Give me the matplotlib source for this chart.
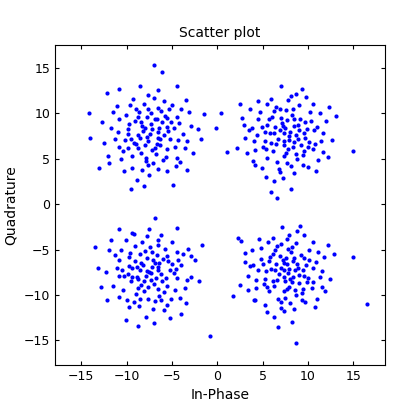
import numpy as np
import matplotlib.pyplot as plt

# cluster centres
centres = [(-7.5, 7.5), (7.5, 7.5), (-7.5, -7.5), (7.5, -7.5)]

# offsets of the points around each centre (estimated by eye)
offsets_a = """
0.1,0.2 -0.8,1.1 1.2,-0.4 -1.5,-0.9 0.6,1.8 2.1,0.5 -2.3,0.7 0.3,-1.6 -0.4,-2.4 1.7,2.2
-1.1,2.6 2.8,-1.2 -2.9,-1.7 0.9,3.1 -3.4,1.9 3.3,1.4 -0.2,-3.2 1.5,-2.7 -1.9,-3.5 2.5,3.4
-3.8,-0.3 4.1,-0.6 0.5,4.2 -0.7,0.5 0.8,-0.9 -1.3,0.1 1.1,0.9 -0.5,-1.0 0.2,1.3 1.9,-1.5
-2.0,-0.4 -1.6,1.6 2.4,1.5 -2.6,2.3 3.0,-2.4 -0.9,-1.9 1.3,2.7 -3.1,-2.6 3.7,0.2 -4.2,0.9
0.0,-4.3 4.4,2.6 -4.6,-2.2 2.0,-3.9 -1.8,4.0 -0.3,2.1 0.7,-2.0 -1.2,-1.3 1.6,0.1 -2.4,-1.3
2.3,-0.3 -0.6,3.5 0.4,-3.0 3.5,3.0 -3.6,3.3 4.8,-1.9 -5.2,1.5 1.0,5.0 -1.4,-4.8 5.4,0.8
0.5,7.8 1.4,7.0 -6.7,2.5 -6.5,-0.2 6.0,2.4 -0.5,0.9 0.9,0.4 -0.1,-0.6 -1.0,-0.2 1.4,1.5
-2.2,1.3 2.7,0.9 -2.7,-0.5 1.8,-2.3 -0.4,-2.8 -1.5,3.0 3.1,2.1 -3.3,-1.2 2.2,2.9 -2.1,3.4
0.2,2.5 -0.8,-3.8 3.9,-1.3 -4.0,2.6 4.6,1.1 -5.0,-0.8 2.9,-3.3 -2.8,-3.9 1.6,3.8 -0.6,-5.5
-3.3,5.2 3.1,5.5 -4.7,4.7 4.2,-3.7 -2.0,-5.8 2.6,-5.4 -5.6,-3.5 5.7,-0.3 0.8,1.9 -1.7,-0.8
0.3,0.7 -0.3,-0.1 1.0,-0.2 -0.9,1.5 0.6,-1.3 -1.3,2.1 2.0,1.0 -2.4,0.2 1.2,-1.0 -0.2,3.0
1.9,2.0 -1.9,-2.2 3.2,-0.5 -3.5,0.4 0.9,-3.6 -0.1,4.5 4.0,3.9 -4.4,-3.0 3.4,-2.9 -1.0,5.5
"""
offsets_b = """
-0.2,0.3 0.9,-0.7 -1.1,1.0 1.4,1.2 -1.6,-0.8 0.3,-1.5 -0.5,2.0 2.2,-0.2 -2.3,0.4 0.7,2.3
1.9,-2.1 -2.0,-2.4 2.8,1.6 -3.0,1.8 0.2,-3.0 -1.0,3.2 3.3,-0.9 -3.5,-0.6 1.5,3.4 -0.7,-3.6
3.8,2.5 -3.9,2.9 2.5,-3.4 -2.6,-3.5 4.2,0.3 -4.4,-0.2 0.6,4.4 -0.3,-4.6 4.7,-2.3 -4.8,2.0
0.0,0.9 1.2,0.1 -0.8,-0.3 0.4,-0.5 -0.4,1.4 1.7,-1.0 -1.4,-1.7 1.0,1.8 -2.0,1.2 2.4,0.8
-2.5,-1.2 2.0,-1.7 -1.2,2.7 1.3,-2.6 -0.2,-2.2 0.1,2.8 3.0,-1.5 -3.1,0.1 2.7,2.6 -2.8,2.6
3.6,-2.7 -3.6,-2.8 1.0,-4.1 -1.6,4.0 4.5,1.6 -4.6,1.2 2.3,4.3 -2.1,-4.5 5.1,-0.5 -5.3,-1.3
1.8,5.2 -0.5,5.5 0.6,-5.8 -1.6,-6.2 -0.9,-6.8 5.6,2.2 7.5,-1.7 -6.4,-1.8 -7.1,2.5 -7.6,0.9
0.5,0.4 -0.6,0.6 0.8,-1.2 -1.0,-0.9 1.5,0.6 -1.7,0.3 0.2,1.7 -0.1,-1.0 2.2,1.5 -2.3,-0.6
1.2,-2.0 -1.5,2.1 2.6,-0.7 -2.6,1.0 0.8,2.9 -0.9,-2.9 3.2,0.6 -3.3,-1.6 1.9,-3.2 -2.0,3.5
3.9,-0.6 -4.0,0.6 0.3,3.9 -0.6,-4.0 4.1,-1.8 -4.2,-1.9 3.1,3.5 -3.0,3.8 3.4,-3.9 -3.4,-3.2
0.4,0.0 -0.2,-0.6 0.9,1.1 -1.2,0.3 1.4,-0.4 -0.3,1.1 0.1,-1.9 2.0,0.3 -1.8,1.8 1.6,1.8
-2.1,-1.5 2.5,-1.2 -0.6,3.0 0.6,-3.3 3.5,1.0 -3.7,0.9 1.2,4.6 -1.3,-5.0 4.8,3.2 -5.0,3.5
"""
offsets_c = """
0.2,-0.1 -0.7,0.8 1.0,0.6 -1.2,-0.7 0.5,-1.3 -0.3,1.6 1.8,-0.6 -1.9,0.5 0.8,1.9 -0.6,-2.1
2.1,1.2 -2.2,1.7 1.6,-2.2 -1.5,-2.4 2.7,-0.1 -2.8,-0.4 0.1,2.8 -0.2,-2.9 3.0,2.2 -3.1,2.4
2.4,-2.9 -2.5,-3.1 3.5,0.8 -3.6,0.5 1.0,3.5 -1.1,-3.7 3.9,-1.7 -4.0,-1.5 1.6,-4.2 -1.7,4.2
4.3,2.6 -4.4,2.5 4.6,-0.5 -4.8,0.0 0.0,4.8 -0.4,-4.9 5.0,1.3 -5.3,-1.6 2.3,-5.0 -2.6,-5.2
0.3,0.6 -0.4,-0.4 1.3,-0.2 -1.0,0.2 0.6,1.0 -0.9,-1.4 1.5,1.5 -1.6,1.2 0.9,-1.8 -1.2,-1.7
2.3,0.2 -2.4,-0.2 0.3,2.2 -0.1,-1.6 2.0,-1.5 -2.0,-1.0 1.7,2.6 -1.6,2.9 2.8,-1.9 -2.9,-1.9
3.2,1.4 -3.3,1.3 0.6,-3.2 -0.8,3.3 3.4,-2.8 -3.4,-2.7 2.5,3.3 -2.6,3.6 0.4,-4.0 -0.3,4.0
5.5,-1.0 -5.7,0.5 3.0,4.9 -3.4,4.8 0.5,-5.6 -1.2,-5.9 5.8,3.0 -6.0,2.8 3.5,-4.6 6.7,-7.0
-0.3,0.1 0.7,-0.6 -0.9,1.0 1.1,1.0 -1.4,-0.5 0.2,-0.9 -0.5,2.3 2.5,0.9 -2.2,0.7 1.1,-2.6
-1.0,-2.9 2.9,0.4 -3.0,0.2 0.9,3.0 -1.0,2.0 3.7,2.0 -3.8,1.9 2.0,-3.6 -2.2,-3.8 4.2,-0.9
0.0,0.0 0.9,0.3 -0.6,-1.0 0.4,1.3 -1.4,0.6 1.4,-1.0 -1.9,-0.5 2.0,1.8 -2.1,2.1 1.3,-3.0
-1.7,-3.3 3.1,-0.6 -3.4,-0.4 1.3,4.1 -1.9,4.3 4.6,1.8 -4.7,-3.0 4.0,-3.4 -4.2,3.5 0.6,6.0
"""
offsets_d = """
-0.1,0.2 0.8,-0.5 -1.0,0.9 1.3,0.9 -1.4,-1.0 0.4,-1.6 -0.6,1.8 2.0,-0.4 -2.1,0.1 0.6,2.2
1.8,-2.3 -1.8,-2.1 2.6,1.4 -2.7,1.5 0.0,-2.8 -0.9,2.9 3.1,-1.1 -3.2,-0.9 1.2,3.2 -0.5,-3.3
3.6,2.2 -3.7,2.5 2.2,-3.3 -2.3,-3.6 4.0,0.1 -4.1,-0.4 0.4,4.1 -0.1,-4.3 4.4,-2.1 -4.5,2.1
0.2,0.9 1.1,0.2 -0.7,-0.2 0.5,-0.7 -0.3,1.3 1.5,-1.2 -1.2,-1.5 0.9,1.6 -1.8,1.2 2.3,0.8
-2.4,-1.3 1.9,-1.8 -1.1,2.5 1.2,-2.5 -0.1,-2.1 0.3,2.6 2.9,-1.7 -3.0,0.3 2.6,2.4 -2.7,2.7
3.5,-2.9 -3.5,-3.0 0.9,-4.0 -1.4,3.8 4.3,1.7 -4.4,1.1 2.1,4.1 -2.0,-4.4 4.9,-0.7 -5.0,-1.4
1.6,5.1 -0.4,5.0 0.7,-5.5 -0.8,-6.0 1.2,-7.8 5.4,2.0 9.0,-3.5 7.5,1.7 -5.8,-2.6 -5.2,3.8
0.4,0.4 -0.5,0.5 0.7,-1.1 -0.9,-0.8 1.4,0.5 -1.6,0.4 0.1,1.6 0.0,-1.0 2.1,1.6 -2.2,-0.7
1.1,-2.0 -1.4,2.0 2.5,-0.6 -2.5,0.9 0.7,2.8 -0.8,-2.9 3.1,0.5 -3.2,-1.7 1.8,-3.1 -1.9,3.3
3.8,-0.5 -3.9,0.7 0.2,3.7 -0.5,-3.9 4.0,-1.6 -4.1,-2.0 3.0,3.3 -2.9,3.7 3.3,-3.8 -3.3,-3.1
0.3,-0.1 -0.1,-0.5 0.8,1.2 -1.1,0.2 1.5,-0.3 -0.2,1.0 0.2,-1.8 1.9,0.2 -1.7,1.7 1.7,1.9
-2.0,-1.6 2.4,-1.1 -0.5,3.1 0.5,-3.4 3.4,1.1 -3.6,0.8 1.3,4.5 -1.2,-4.9 4.7,3.0 -4.9,3.4
"""
offset_sets = [offsets_a, offsets_b, offsets_c, offsets_d]

xs, ys = [], []
for (cx, cy), txt in zip(centres, offset_sets):
    for pair in txt.split():
        dx, dy = map(float, pair.split(","))
        xs.append(cx + dx)
        ys.append(cy + dy)

fig = plt.figure(figsize=(4.2, 4.2), dpi=100)
ax = fig.add_axes([0.131, 0.131, 0.786, 0.762])
ax.scatter(xs, ys, s=9, c="blue", marker="o", linewidths=0)
ax.set_xlim(-17.9, 18.5)
ax.set_ylim(-17.7, 17.5)
ax.set_xticks([-15, -10, -5, 0, 5, 10, 15])
ax.set_yticks([-15, -10, -5, 0, 5, 10, 15])
ax.tick_params(labelsize=9, direction="in", length=3, top=True, right=True)
ax.set_title("Scatter plot", fontsize=10)
ax.set_xlabel("In-Phase", fontsize=10)
ax.set_ylabel("Quadrature", fontsize=10)
fig.savefig("out.png", dpi=100)
